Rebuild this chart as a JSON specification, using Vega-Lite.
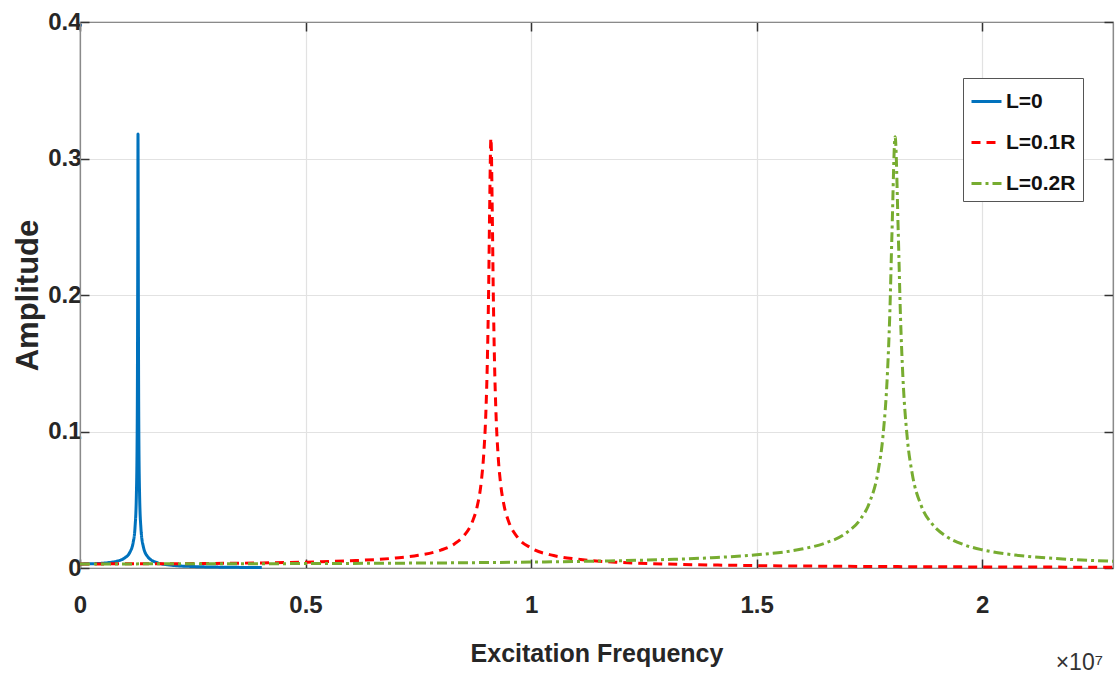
{
  "$schema": "https://vega.github.io/schema/vega-lite/v6.json",
  "width": 1033,
  "height": 546,
  "autosize": {"type": "none"},
  "padding": {"left": 80, "top": 22, "right": 2, "bottom": 110},
  "background": "white",
  "title": {
    "text": "×10⁷",
    "orient": "bottom",
    "anchor": "end",
    "frame": "group",
    "offset": -14,
    "dx": -10,
    "font": "Liberation Sans, Arial, sans-serif",
    "fontSize": 23,
    "fontWeight": "normal",
    "color": "#333333"
  },
  "data": {
    "values": [
      {"f": 0, "A": 0.003, "L": "L=0"},
      {"f": 300000, "A": 0.00317, "L": "L=0"},
      {"f": 600000, "A": 0.00383, "L": "L=0"},
      {"f": 800000, "A": 0.00489, "L": "L=0"},
      {"f": 1000000, "A": 0.00759, "L": "L=0"},
      {"f": 1100000, "A": 0.01118, "L": "L=0"},
      {"f": 1180000, "A": 0.01897, "L": "L=0"},
      {"f": 1220000, "A": 0.0299, "L": "L=0"},
      {"f": 1250000, "A": 0.0536, "L": "L=0"},
      {"f": 1270000, "A": 0.1133, "L": "L=0"},
      {"f": 1280000, "A": 0.226, "L": "L=0"},
      {"f": 1286000, "A": 0.318, "L": "L=0"},
      {"f": 1292000, "A": 0.226, "L": "L=0"},
      {"f": 1302000, "A": 0.112, "L": "L=0"},
      {"f": 1320000, "A": 0.0553, "L": "L=0"},
      {"f": 1350000, "A": 0.0294, "L": "L=0"},
      {"f": 1400000, "A": 0.0162, "L": "L=0"},
      {"f": 1500000, "A": 0.00832, "L": "L=0"},
      {"f": 1700000, "A": 0.00401, "L": "L=0"},
      {"f": 2000000, "A": 0.00211, "L": "L=0"},
      {"f": 2500000, "A": 0.00108, "L": "L=0"},
      {"f": 3000000, "A": 0.00068, "L": "L=0"},
      {"f": 3500000, "A": 0.00047, "L": "L=0"},
      {"f": 4030000, "A": 0.00035, "L": "L=0"},

      {"f": 0, "A": 0.003, "L": "L=0.1R"},
      {"f": 2000000, "A": 0.00315, "L": "L=0.1R"},
      {"f": 4000000, "A": 0.00372, "L": "L=0.1R"},
      {"f": 5000000, "A": 0.00429, "L": "L=0.1R"},
      {"f": 6000000, "A": 0.0053, "L": "L=0.1R"},
      {"f": 7000000, "A": 0.00733, "L": "L=0.1R"},
      {"f": 7500000, "A": 0.00931, "L": "L=0.1R"},
      {"f": 8000000, "A": 0.0131, "L": "L=0.1R"},
      {"f": 8300000, "A": 0.01766, "L": "L=0.1R"},
      {"f": 8500000, "A": 0.0232, "L": "L=0.1R"},
      {"f": 8700000, "A": 0.0341, "L": "L=0.1R"},
      {"f": 8800000, "A": 0.0444, "L": "L=0.1R"},
      {"f": 8900000, "A": 0.0645, "L": "L=0.1R"},
      {"f": 8950000, "A": 0.0832, "L": "L=0.1R"},
      {"f": 9000000, "A": 0.1163, "L": "L=0.1R"},
      {"f": 9030000, "A": 0.151, "L": "L=0.1R"},
      {"f": 9060000, "A": 0.207, "L": "L=0.1R"},
      {"f": 9080000, "A": 0.26, "L": "L=0.1R"},
      {"f": 9110000, "A": 0.315, "L": "L=0.1R"},
      {"f": 9140000, "A": 0.259, "L": "L=0.1R"},
      {"f": 9160000, "A": 0.206, "L": "L=0.1R"},
      {"f": 9190000, "A": 0.1495, "L": "L=0.1R"},
      {"f": 9220000, "A": 0.115, "L": "L=0.1R"},
      {"f": 9270000, "A": 0.0817, "L": "L=0.1R"},
      {"f": 9320000, "A": 0.063, "L": "L=0.1R"},
      {"f": 9400000, "A": 0.0459, "L": "L=0.1R"},
      {"f": 9500000, "A": 0.0343, "L": "L=0.1R"},
      {"f": 9700000, "A": 0.0224, "L": "L=0.1R"},
      {"f": 10000000, "A": 0.01464, "L": "L=0.1R"},
      {"f": 10500000, "A": 0.00913, "L": "L=0.1R"},
      {"f": 11000000, "A": 0.00655, "L": "L=0.1R"},
      {"f": 12000000, "A": 0.00408, "L": "L=0.1R"},
      {"f": 13000000, "A": 0.0029, "L": "L=0.1R"},
      {"f": 15000000, "A": 0.00175, "L": "L=0.1R"},
      {"f": 17000000, "A": 0.00121, "L": "L=0.1R"},
      {"f": 20000000, "A": 0.00079, "L": "L=0.1R"},
      {"f": 22900000, "A": 0.00056, "L": "L=0.1R"},

      {"f": 0, "A": 0.003, "L": "L=0.2R"},
      {"f": 3000000, "A": 0.00309, "L": "L=0.2R"},
      {"f": 6000000, "A": 0.00337, "L": "L=0.2R"},
      {"f": 9000000, "A": 0.00399, "L": "L=0.2R"},
      {"f": 11000000, "A": 0.00477, "L": "L=0.2R"},
      {"f": 13000000, "A": 0.00622, "L": "L=0.2R"},
      {"f": 14000000, "A": 0.0075, "L": "L=0.2R"},
      {"f": 15000000, "A": 0.00965, "L": "L=0.2R"},
      {"f": 16000000, "A": 0.0139, "L": "L=0.2R"},
      {"f": 16500000, "A": 0.01805, "L": "L=0.2R"},
      {"f": 17000000, "A": 0.026, "L": "L=0.2R"},
      {"f": 17300000, "A": 0.0357, "L": "L=0.2R"},
      {"f": 17500000, "A": 0.0478, "L": "L=0.2R"},
      {"f": 17700000, "A": 0.0721, "L": "L=0.2R"},
      {"f": 17800000, "A": 0.0964, "L": "L=0.2R"},
      {"f": 17900000, "A": 0.143, "L": "L=0.2R"},
      {"f": 17950000, "A": 0.184, "L": "L=0.2R"},
      {"f": 18000000, "A": 0.245, "L": "L=0.2R"},
      {"f": 18070000, "A": 0.316, "L": "L=0.2R"},
      {"f": 18140000, "A": 0.245, "L": "L=0.2R"},
      {"f": 18190000, "A": 0.183, "L": "L=0.2R"},
      {"f": 18240000, "A": 0.1417, "L": "L=0.2R"},
      {"f": 18340000, "A": 0.095, "L": "L=0.2R"},
      {"f": 18450000, "A": 0.0689, "L": "L=0.2R"},
      {"f": 18650000, "A": 0.0455, "L": "L=0.2R"},
      {"f": 18900000, "A": 0.0319, "L": "L=0.2R"},
      {"f": 19200000, "A": 0.02326, "L": "L=0.2R"},
      {"f": 19600000, "A": 0.017, "L": "L=0.2R"},
      {"f": 20000000, "A": 0.01333, "L": "L=0.2R"},
      {"f": 20500000, "A": 0.01045, "L": "L=0.2R"},
      {"f": 21000000, "A": 0.00856, "L": "L=0.2R"},
      {"f": 22000000, "A": 0.00622, "L": "L=0.2R"},
      {"f": 22900000, "A": 0.00495, "L": "L=0.2R"}
    ]
  },
  "config": {
    "view": {"stroke": "#707070", "strokeWidth": 1.2},
    "axis": {
      "grid": true,
      "gridColor": "#e2e2e2",
      "gridWidth": 1.2,
      "domainColor": "#8a8a8a",
      "domainWidth": 1.2,
      "tickColor": "#333333",
      "tickSize": -9,
      "tickWidth": 1.5,
      "labelFlush": false,
      "labelFont": "Liberation Sans, Arial, sans-serif",
      "labelFontSize": 24,
      "labelFontWeight": "bold",
      "labelColor": "#262626",
      "titleColor": "#262626",
      "titleFontWeight": "bold"
    },
    "legend": {
      "orient": "none",
      "legendX": 883,
      "legendY": 56,
      "padding": 7,
      "strokeColor": "#555555",
      "fillColor": "white",
      "symbolType": "stroke",
      "symbolSize": 900,
      "symbolStrokeWidth": 3,
      "labelFont": "Liberation Sans, Arial, sans-serif",
      "labelFontSize": 21,
      "labelFontWeight": "bold",
      "labelColor": "#111111",
      "labelOffset": 3,
      "rowPadding": 14
    }
  },
  "layer": [
    {
      "mark": {"type": "line", "strokeWidth": 3, "interpolate": "monotone"},
      "encoding": {
        "x": {
          "field": "f",
          "type": "quantitative",
          "scale": {"domain": [0, 22900000], "nice": false, "zero": false},
          "axis": {
            "values": [0, 5000000, 10000000, 15000000, 20000000],
            "labelExpr": "datum.value == 0 ? '0' : format(datum.value / 10000000, '~g')",
            "labelPadding": 34,
            "title": "Excitation Frequency",
            "titleFont": "Liberation Sans, Arial, sans-serif",
            "titleFontSize": 25,
            "titlePadding": 24
          }
        },
        "y": {
          "field": "A",
          "type": "quantitative",
          "scale": {"domain": [0, 0.4], "nice": false},
          "axis": {
            "values": [0, 0.1, 0.2, 0.3, 0.4],
            "labelExpr": "datum.value == 0 ? '0' : format(datum.value, '.1f')",
            "labelPadding": 8,
            "title": "Amplitude",
            "titleFont": "Liberation Sans, Arial, sans-serif",
            "titleFontSize": 31,
            "titlePadding": 3
          }
        },
        "color": {
          "field": "L",
          "type": "nominal",
          "scale": {"domain": ["L=0", "L=0.1R", "L=0.2R"], "range": ["#0072BD", "#FF0000", "#77AC30"]},
          "legend": {"title": null}
        },
        "strokeDash": {
          "field": "L",
          "type": "nominal",
          "scale": {"domain": ["L=0", "L=0.1R", "L=0.2R"], "range": [[1, 0], [9, 6], [10, 4, 3, 4]]},
          "legend": {"title": null}
        }
      }
    },
    {
      "mark": {"type": "point", "opacity": 0},
      "encoding": {
        "x": {
          "field": "f",
          "type": "quantitative",
          "scale": {"domain": [0, 22900000], "nice": false, "zero": false},
          "axis": {"orient": "top", "values": [0, 5000000, 10000000, 15000000, 20000000], "labels": false, "grid": false, "title": null}
        },
        "y": {
          "field": "A",
          "type": "quantitative",
          "scale": {"domain": [0, 0.4], "nice": false},
          "axis": {"orient": "right", "values": [0, 0.1, 0.2, 0.3, 0.4], "labels": false, "grid": false, "title": null}
        }
      }
    }
  ],
  "resolve": {"axis": {"x": "independent", "y": "independent"}}
}
